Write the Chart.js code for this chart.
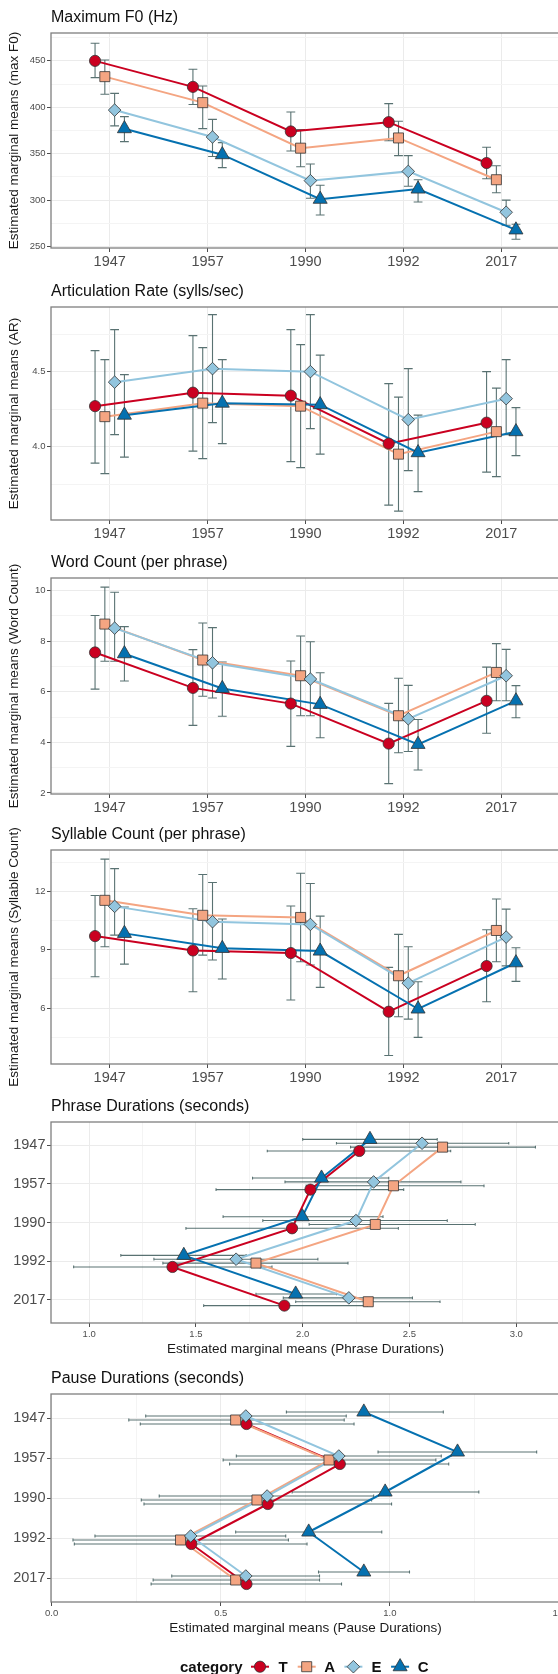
<!doctype html>
<html lang="en">
<head>
  <meta charset="utf-8" />
  <title>Estimated marginal means by year</title>
  <script src="https://cdn.jsdelivr.net/npm/chart.js"></script>
  <style>
    html, body { margin: 0; padding: 0; background: #fff; }
    #page { position: relative; width: 558px; height: 1674px; overflow: hidden; }
    .panel { position: absolute; left: 0; width: 580px; }
    #legend { position: absolute; left: 0; top: 1644px; }
  </style>
</head>
<body>
  <div id="page">
    <div class="panel" style="top:0px;height:272px"><canvas id="f0Chart"></canvas></div>
    <div class="panel" style="top:274px;height:270px"><canvas id="arChart"></canvas></div>
    <div class="panel" style="top:545px;height:273px"><canvas id="wcChart"></canvas></div>
    <div class="panel" style="top:817px;height:271px"><canvas id="scChart"></canvas></div>
    <div class="panel" style="top:1089px;height:270px"><canvas id="pdChart"></canvas></div>
    <div class="panel" style="top:1361px;height:277px"><canvas id="paChart"></canvas></div>
    <canvas id="legend" width="558" height="30"></canvas>
  </div>

  <script>
    Chart.defaults.font.family = '"Liberation Sans", Arial, sans-serif';
    Chart.defaults.animation = false;

    const years = ['1947', '1957', '1990', '1992', '2017'];
    const categories = ['T', 'A', 'E', 'C'];

    // rows follow categories (T, A, E, C), columns follow years

    // Maximum F0 (Hz)
    const f0Mean = [[450, 422, 374, 384, 340], [433, 405, 356, 367, 322], [397, 368, 321, 331, 287], [377, 349, 301, 312, 268]];
    const f0Low  = [[432, 403, 353, 364, 323], [414, 377, 336, 348, 308], [380, 347, 302, 315, 273], [363, 335, 284, 298, 258]];
    const f0High = [[469, 441, 395, 404, 357], [451, 423, 376, 385, 337], [415, 387, 339, 348, 300], [390, 362, 316, 322, 274]];
    const f0Ticks = [250, 300, 350, 400, 450];

    // Articulation rate (sylls/sec)
    const arMean = [[4.27, 4.36, 4.34, 4.02, 4.16], [4.20, 4.29, 4.27, 3.95, 4.10], [4.43, 4.52, 4.50, 4.18, 4.32], [4.21, 4.29, 4.28, 3.96, 4.10]];
    const arLow  = [[3.89, 3.97, 3.90, 3.61, 3.83], [3.82, 3.92, 3.86, 3.57, 3.80], [4.08, 4.16, 4.12, 3.84, 4.08], [3.93, 4.02, 3.95, 3.70, 3.94]];
    const arHigh = [[4.64, 4.74, 4.78, 4.42, 4.50], [4.58, 4.66, 4.68, 4.33, 4.39], [4.78, 4.88, 4.88, 4.52, 4.58], [4.48, 4.58, 4.61, 4.21, 4.26]];
    const arTicks = [4.0, 4.5];

    // Word count (per phrase)
    const wcMean = [[7.55, 6.15, 5.53, 3.95, 5.64], [8.67, 7.25, 6.63, 5.05, 6.76], [8.51, 7.14, 6.50, 4.93, 6.63], [7.50, 6.13, 5.50, 3.92, 5.64]];
    const wcLow  = [[6.10, 4.67, 3.84, 2.37, 4.36], [7.20, 5.82, 5.05, 3.59, 5.64], [7.20, 5.75, 5.05, 3.64, 5.64], [6.42, 5.03, 4.18, 2.91, 4.97]];
    const wcHigh = [[9.01, 7.66, 7.21, 5.54, 6.97], [10.13, 8.71, 8.20, 6.53, 7.90], [9.93, 8.53, 7.97, 6.25, 7.67], [8.57, 7.17, 6.75, 4.90, 6.24]];
    const wcTicks = [2, 4, 6, 8, 10];

    // Syllable count (per phrase)
    const scMean = [[9.70, 8.96, 8.83, 5.81, 8.16], [11.54, 10.77, 10.66, 7.66, 9.99], [11.23, 10.44, 10.30, 7.28, 9.65], [9.84, 9.07, 8.93, 5.95, 8.33]];
    const scLow  = [[7.61, 6.84, 6.41, 3.56, 6.32], [9.15, 8.72, 8.38, 5.55, 8.38], [9.75, 8.47, 8.21, 5.43, 8.17], [8.26, 7.49, 7.06, 4.49, 7.37]];
    const scHigh = [[11.79, 11.11, 11.25, 8.09, 10.03], [13.66, 12.87, 12.93, 9.79, 11.61], [13.17, 12.46, 12.41, 9.15, 11.09], [11.20, 10.58, 10.73, 7.35, 9.10]];
    const scTicks = [6, 9, 12];

    // Phrase durations (seconds)
    const pdMean = [[2.265, 2.036, 1.950, 1.390, 1.914], [2.655, 2.425, 2.340, 1.781, 2.307], [2.559, 2.332, 2.249, 1.688, 2.216], [2.315, 2.088, 1.998, 1.443, 1.967]];
    const pdLow  = [[1.834, 1.594, 1.453, 0.927, 1.536], [2.224, 2.016, 2.030, 1.345, 1.967], [2.158, 1.917, 1.813, 1.303, 1.909], [2.000, 1.765, 1.627, 1.148, 1.781]];
    const pdHigh = [[2.693, 2.473, 2.448, 1.856, 2.303], [3.090, 2.849, 2.808, 2.212, 2.643], [2.965, 2.741, 2.677, 2.071, 2.514], [2.630, 2.403, 2.376, 1.735, 2.158]];
    const pdTicks = [1.0, 1.5, 2.0, 2.5, 3.0];

    // Pause durations (seconds)
    const paMean = [[0.576, 0.852, 0.639, 0.413, 0.576], [0.544, 0.820, 0.607, 0.381, 0.544], [0.574, 0.849, 0.637, 0.411, 0.574], [0.923, 1.200, 0.986, 0.760, 0.923]];
    const paLow  = [[0.262, 0.526, 0.273, 0.067, 0.294], [0.228, 0.507, 0.265, 0.063, 0.300], [0.278, 0.546, 0.318, 0.128, 0.355], [0.694, 0.965, 0.711, 0.544, 0.789]];
    const paHigh = [[0.894, 1.174, 1.005, 0.755, 0.857], [0.865, 1.136, 0.946, 0.700, 0.792], [0.871, 1.152, 0.952, 0.692, 0.792], [1.158, 1.434, 1.263, 0.976, 1.058]];
    const paTicks = [0.0, 0.5, 1.0, 1.5];

    // styling
    const colors = ['#ca0020', '#f4a582', '#92c5de', '#0571b0'];
    const shapes = ['circle', 'rect', 'rectRot', 'triangle'];
    const shapeSize = [5.6, 7.1, 6.3, 8.1];
    const dodge = [-0.15, -0.05, 0.05, 0.15];
    const GRID = '#ebebeb', GRID_MINOR = '#f4f4f4', TEXT = '#4d4d4d', OUTLINE = '#333333';

    // dodged category position; the flipped panels put T at the bottom of each group
    function posOf(p, i, j) {
      return j + (p.horizontal ? -dodge[i] : dodge[i]);
    }

    // major ticks plus the in-between minor grid lines (ggplot style)
    function withMinor(major, lo, hi) {
      const step = major[1] - major[0];
      const out = major.filter(v => v >= lo && v <= hi).map(v => ({ value: v }));
      for (let v = major[0] - step / 2; v <= major[major.length - 1] + step / 2 + 1e-9; v += step) {
        if (v >= lo && v <= hi) out.push({ value: v, minor: true });
      }
      return out.sort((a, b) => a.value - b.value);
    }

    function yearAxis(pos) {
      const left = pos === 'left';
      return {
        type: 'linear', position: pos, min: -0.6, max: 4.6, bounds: 'data', reverse: left,
        afterBuildTicks: a => { a.ticks = years.map((_, i) => ({ value: i })); },
        afterFit: a => { if (left) a.width = 51; else a.height = 24; },
        grid: { color: GRID, lineWidth: 1, tickLength: 4, tickColor: TEXT },
        border: { display: false },
        ticks: {
          autoSkip: false, maxRotation: 0, color: TEXT, padding: left ? 1.5 : 2.8,
          font: { size: 14.5, lineHeight: 1 },
          callback: v => years[v]
        }
      };
    }

    function valueAxis(pos, p) {
      const left = pos === 'left';
      return {
        type: 'linear', position: pos, min: p.min, max: p.max, bounds: 'data',
        afterBuildTicks: a => { a.ticks = withMinor(p.ticks, p.min, p.max); },
        afterFit: a => { if (left) a.width = 51; else a.height = 36; },
        grid: {
          color: c => (c.tick && c.tick.minor ? GRID_MINOR : GRID),
          lineWidth: 1, tickLength: 4,
          tickColor: c => (c.tick && c.tick.minor ? 'rgba(0,0,0,0)' : TEXT)
        },
        border: { display: false },
        ticks: {
          autoSkip: false, maxRotation: 0, color: TEXT, padding: left ? 1.5 : 2.6,
          font: { size: 9.5, lineHeight: 1 },
          callback: (v, i, t) => (t[i].minor ? '' : v.toFixed(p.digits))
        },
        title: {
          display: true, text: p.axisTitle, color: '#1a1a1a',
          font: { size: 13.5 },
          padding: left ? { top: 6.6, bottom: 0 } : { top: 0, bottom: 1.9 }
        }
      };
    }

    // error bars, panel border and panel title
    function decor(p) {
      return {
        id: 'decor',
        beforeDatasetsDraw(chart) {
          const { ctx, scales: { x, y } } = chart;
          const half = p.cap / 2;
          ctx.save();
          ctx.strokeStyle = 'rgba(47,79,79,0.8)';
          ctx.lineWidth = 1.1;
          p.low.forEach((row, i) => row.forEach((lo, j) => {
            const pos = posOf(p, i, j);
            const hi = p.high[i][j];
            ctx.beginPath();
            if (p.horizontal) {
              const py = y.getPixelForValue(pos);
              const a = y.getPixelForValue(pos - half), b = y.getPixelForValue(pos + half);
              const x0 = x.getPixelForValue(lo), x1 = x.getPixelForValue(hi);
              ctx.moveTo(x0, py); ctx.lineTo(x1, py);
              ctx.moveTo(x0, a); ctx.lineTo(x0, b);
              ctx.moveTo(x1, a); ctx.lineTo(x1, b);
            } else {
              const px = x.getPixelForValue(pos);
              const a = x.getPixelForValue(pos - half), b = x.getPixelForValue(pos + half);
              const y0 = y.getPixelForValue(lo), y1 = y.getPixelForValue(hi);
              ctx.moveTo(px, y0); ctx.lineTo(px, y1);
              ctx.moveTo(a, y0); ctx.lineTo(b, y0);
              ctx.moveTo(a, y1); ctx.lineTo(b, y1);
            }
            ctx.stroke();
          }));
          ctx.restore();
        },
        afterDatasetsDraw(chart) {
          const { ctx, chartArea: c } = chart;
          ctx.save();
          ctx.strokeStyle = '#7f7f7f';
          ctx.lineWidth = 1.3;
          ctx.strokeRect(c.left, c.top, c.right - c.left, c.bottom - c.top);
          ctx.fillStyle = '#111';
          ctx.font = '16px "Liberation Sans", Arial, sans-serif';
          ctx.textAlign = 'left';
          ctx.textBaseline = 'alphabetic';
          ctx.fillText(p.title, c.left, c.top - 10.6);
          ctx.restore();
        }
      };
    }

    function makePanel(id, p) {
      const datasets = [];
      categories.forEach((cat, i) => {
        const pts = years.map((_, j) => (p.horizontal
          ? { x: p.mean[i][j], y: posOf(p, i, j) }
          : { x: posOf(p, i, j), y: p.mean[i][j] }));
        datasets.push({
          label: cat, data: pts, order: 20 - i,
          borderColor: colors[i], borderWidth: 2, pointRadius: 0, tension: 0
        });
        datasets.push({
          label: cat, data: pts, order: 10 - i, showLine: false,
          pointStyle: shapes[i], pointRadius: shapeSize[i],
          pointBackgroundColor: colors[i], pointBorderColor: OUTLINE, pointBorderWidth: 0.8
        });
      });

      new Chart(document.getElementById(id), {
        type: 'line',
        data: { datasets },
        options: {
          responsive: true,
          maintainAspectRatio: false,
          indexAxis: p.horizontal ? 'y' : 'x',
          events: [],
          layout: { padding: { top: 33, left: 0, right: 20, bottom: 0 } },
          plugins: { legend: { display: false }, tooltip: { enabled: false } },
          scales: p.horizontal
            ? { x: valueAxis('bottom', p), y: yearAxis('left') }
            : { x: yearAxis('bottom'), y: valueAxis('left', p) }
        },
        plugins: [decor(p)]
      });
    }

    makePanel('f0Chart', {
      title: 'Maximum F0 (Hz)', axisTitle: 'Estimated marginal means (max F0)',
      mean: f0Mean, low: f0Low, high: f0High, ticks: f0Ticks, min: 248.5, max: 480, digits: 0, cap: 0.09
    });
    makePanel('arChart', {
      title: 'Articulation Rate (sylls/sec)', axisTitle: 'Estimated marginal means (AR)',
      mean: arMean, low: arLow, high: arHigh, ticks: arTicks, min: 3.511, max: 4.931, digits: 1, cap: 0.09
    });
    makePanel('wcChart', {
      title: 'Word Count (per phrase)', axisTitle: 'Estimated marginal means (Word Count)',
      mean: wcMean, low: wcLow, high: wcHigh, ticks: wcTicks, min: 1.96, max: 10.49, digits: 0, cap: 0.09
    });
    makePanel('scChart', {
      title: 'Syllable Count (per phrase)', axisTitle: 'Estimated marginal means (Syllable Count)',
      mean: scMean, low: scLow, high: scHigh, ticks: scTicks, min: 3.12, max: 14.13, digits: 0, cap: 0.09
    });
    makePanel('pdChart', {
      title: 'Phrase Durations (seconds)', axisTitle: 'Estimated marginal means (Phrase Durations)',
      mean: pdMean, low: pdLow, high: pdHigh, ticks: pdTicks, min: 0.821, max: 3.205, digits: 1, cap: 0.07,
      horizontal: true
    });
    makePanel('paChart', {
      title: 'Pause Durations (seconds)', axisTitle: 'Estimated marginal means (Pause Durations)',
      mean: paMean, low: paLow, high: paHigh, ticks: paTicks, min: -0.002, max: 1.503, digits: 1, cap: 0.07,
      horizontal: true
    });

    // shared legend at the bottom
    const lg = document.getElementById('legend').getContext('2d');
    lg.font = 'bold 15px "Liberation Sans", Arial, sans-serif';
    lg.fillStyle = '#111';
    lg.textBaseline = 'alphabetic';
    lg.fillText('category', 180, 27.7);
    categories.forEach((cat, i) => {
      const cx = 260 + 46.7 * i, cy = 22.7;
      lg.strokeStyle = colors[i];
      lg.lineWidth = 2;
      lg.beginPath();
      lg.moveTo(cx - 9, cy); lg.lineTo(cx + 9, cy);
      lg.stroke();
      lg.fillStyle = colors[i];
      lg.strokeStyle = OUTLINE;
      lg.lineWidth = 0.8;
      Chart.helpers.drawPoint(lg, { pointStyle: shapes[i], radius: shapeSize[i], rotation: 0, borderWidth: 0.8 }, cx, cy);
      lg.fillStyle = '#111';
      lg.textAlign = 'center';
      lg.fillText(cat, cx + 23, 27.7);
      lg.textAlign = 'left';
    });
  </script>
</body>
</html>
